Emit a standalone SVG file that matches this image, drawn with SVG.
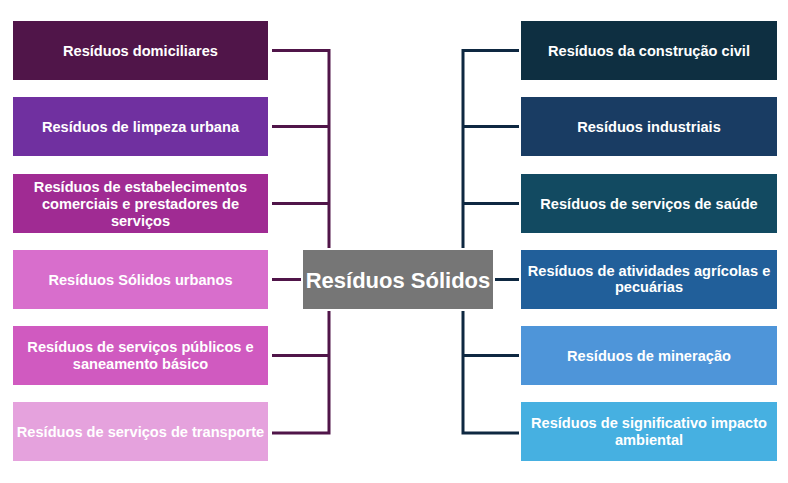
<svg xmlns="http://www.w3.org/2000/svg" width="788" height="483" viewBox="0 0 788 483">
<style>
.t{font-family:"Liberation Sans",Arial,sans-serif;font-weight:bold;font-size:14.6px;fill:#ffffff;text-anchor:middle}
.c{font-family:"Liberation Sans",Arial,sans-serif;font-weight:bold;font-size:22px;fill:#ffffff;text-anchor:middle}
.lc{fill:none;stroke:#501549;stroke-width:3;stroke-linecap:butt;stroke-linejoin:miter}
.rc{fill:none;stroke:#0E2841;stroke-width:3;stroke-linecap:butt;stroke-linejoin:miter}
</style>
<rect width="788" height="483" fill="#ffffff"/>
<g id="connectors">
<path class="lc" d="M272 50.5H329V248M329 311V433H272M272 126.5H329M272 203.5H329M272 355.5H329M272 279.5H301"/>
<path class="rc" d="M519 50.5H463V248M463 311V433H519M519 126.5H463M519 203.5H463M519 355.5H463M495 279.5H519"/>
</g>
<g id="center">
<rect x="303" y="250" width="190" height="59" fill="#767676"/>
<text class="c" x="398" y="287.5">Resíduos Sólidos</text>
</g>
<g id="l1"><rect x="13" y="21" width="255" height="59" fill="#501549"/><text class="t" x="140.5" y="55.7">Resíduos domiciliares</text></g>
<g id="l2"><rect x="13" y="97" width="255" height="59" fill="#7030A0"/><text class="t" x="140.5" y="131.7">Resíduos de limpeza urbana</text></g>
<g id="l3"><rect x="13" y="174" width="255" height="59" fill="#A02B93"/><text class="t" x="140.5" y="191.5">Resíduos de estabelecimentos</text><text class="t" x="140.5" y="208.5">comerciais e prestadores de</text><text class="t" x="140.5" y="225.5">serviços</text></g>
<g id="l4"><rect x="13" y="250" width="255" height="59" fill="#D86ECC"/><text class="t" x="140.5" y="284.7">Resíduos Sólidos urbanos</text></g>
<g id="l5"><rect x="13" y="326" width="255" height="59" fill="#D05AC0"/><text class="t" x="140.5" y="352.4">Resíduos de serviços públicos e</text><text class="t" x="140.5" y="369.2">saneamento básico</text></g>
<g id="l6"><rect x="13" y="402" width="255" height="59" fill="#E5A2DD"/><text class="t" x="140.5" y="436.7">Resíduos de serviços de transporte</text></g>
<g id="r1"><rect x="521" y="21" width="256" height="59" fill="#0E2F41"/><text class="t" x="649" y="55.7">Resíduos da construção civil</text></g>
<g id="r2"><rect x="521" y="97" width="256" height="59" fill="#193C63"/><text class="t" x="649" y="131.7">Resíduos industriais</text></g>
<g id="r3"><rect x="521" y="174" width="256" height="59" fill="#124A61"/><text class="t" x="649" y="208.7">Resíduos de serviços de saúde</text></g>
<g id="r4"><rect x="521" y="250" width="256" height="59" fill="#215F9A"/><text class="t" x="649" y="275.5">Resíduos de atividades agrícolas e</text><text class="t" x="649" y="292.2">pecuárias</text></g>
<g id="r5"><rect x="521" y="326" width="256" height="59" fill="#4E95D9"/><text class="t" x="649" y="360.7">Resíduos de mineração</text></g>
<g id="r6"><rect x="521" y="402" width="256" height="59" fill="#46B0E1"/><text class="t" x="649" y="428.2">Resíduos de significativo impacto</text><text class="t" x="649" y="445">ambiental</text></g>
</svg>
